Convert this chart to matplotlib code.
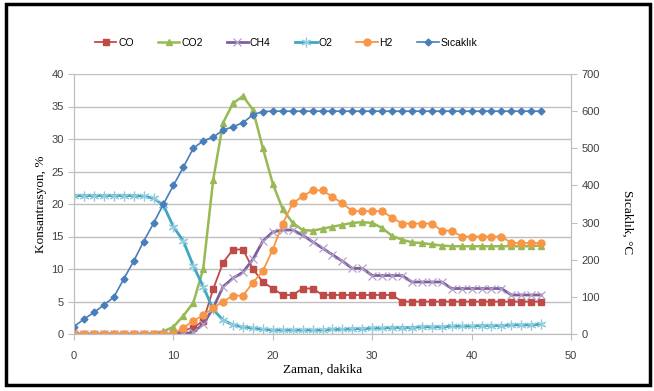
import matplotlib
matplotlib.use("Agg")
import matplotlib.pyplot as plt
from matplotlib.patches import Rectangle
import numpy as np

# time in minutes
zaman = list(range(48))

co = [0, 0, 0, 0, 0, 0, 0, 0, 0, 0, 0, 0.5, 1.0, 2.0, 6.9, 11.0, 13.0, 13.0, 10.0, 8.0,
      7.0, 6.0, 6.0, 7.0, 7.0, 6.0, 6.0, 6.0, 6.0, 6.0, 6.0, 6.0, 6.0, 5.0, 5.0, 5.0,
      5.0, 5.0, 5.0, 5.0, 5.0, 5.0, 5.0, 5.0, 5.0, 5.0, 5.0, 5.0]
co2 = [0, 0, 0, 0, 0, 0, 0, 0, 0, 0.4, 1.1, 2.8, 4.8, 10.0, 23.7, 32.5, 35.5, 36.6, 34.5, 28.6,
       23.1, 19.2, 17.1, 16.0, 15.9, 16.2, 16.5, 16.8, 17.1, 17.2, 17.1, 16.3, 15.1, 14.5, 14.1, 14.0,
       13.8, 13.6, 13.5, 13.5, 13.5, 13.5, 13.5, 13.5, 13.5, 13.5, 13.5, 13.6]
ch4 = [0, 0, 0, 0, 0, 0, 0, 0, 0, 0, 0, 0, 0.3, 1.5, 4.0, 7.3, 8.6, 9.5, 11.5, 14.3,
       15.7, 16.0, 16.0, 15.2, 14.2, 13.2, 12.2, 11.2, 10.1, 10.1, 9.0, 9.0, 9.0, 9.0, 8.0, 8.0,
       8.0, 8.0, 7.0, 7.0, 7.0, 7.0, 7.0, 7.0, 6.0, 6.0, 6.0, 6.0]
o2 = [21.3, 21.3, 21.3, 21.3, 21.3, 21.3, 21.3, 21.2, 20.9, 19.8, 16.5, 14.3, 10.5, 7.3, 3.8, 2.1,
      1.4, 1.1, 0.9, 0.7, 0.6, 0.6, 0.6, 0.6, 0.6, 0.6, 0.7, 0.7, 0.8, 0.8, 0.9, 0.9,
      1.0, 1.0, 1.0, 1.1, 1.1, 1.1, 1.2, 1.2, 1.2, 1.3, 1.3, 1.3, 1.4, 1.4, 1.4, 1.5]
h2 = [0, 0, 0, 0, 0, 0, 0, 0, 0, 0, 0, 1.0, 2.0, 2.9, 4.0, 5.0, 5.9, 5.9, 7.9, 9.7,
      13.0, 17.0, 20.1, 21.2, 22.1, 22.1, 21.1, 20.1, 18.9, 18.9, 18.9, 18.9, 17.9, 17.0, 17.0, 17.0,
      17.0, 15.9, 15.9, 15.0, 15.0, 15.0, 15.0, 15.0, 14.0, 14.0, 14.0, 14.0]
sicaklik = [20, 40, 58, 78, 99, 148, 196, 249, 298, 350, 400, 449, 500, 520, 530, 549, 558, 569, 590, 599] + [600] * 28

sans = ['Liberation Sans', 'DejaVu Sans']
serif = ['Liberation Serif', 'DejaVu Serif']
tick_col = '#404040'

fig = plt.figure(figsize=(6.54, 3.91), dpi=100)
ax = fig.add_axes([74/654, 1-334/391, (571-74)/654, (334-74)/391])
ax2 = ax.twinx()

lines = []
lines += ax.plot(zaman, co, color='#BE4B48', lw=1.3, marker='s', ms=4.5, label='CO')
lines += ax.plot(zaman, co2, color='#98B954', lw=1.8, marker='^', ms=4.2, label='CO2')
lines += ax.plot(zaman, ch4, color='#7D5FA0', lw=2.0, marker='x', ms=6, mew=0.9,
                 mec='#B3A2C7', label='CH4')
lines += ax.plot(zaman, o2, color='#40A6C2', lw=2.0, marker=(6, 2, 0), ms=7, mew=0.9,
                 mec='#93CDDD', label='O2')
lines += ax.plot(zaman, h2, color='#F79646', lw=1.3, marker='o', ms=5, label='H2')
lines += ax2.plot(zaman, sicaklik, color='#4A7EBB', lw=1.2, marker='D', ms=3.5, label='Sıcaklık')

ax.set_xlim(0, 50)
ax.set_ylim(0, 40)
ax.set_xticks(range(0, 51, 10))
ax.set_yticks(range(0, 41, 5))
ax2.set_ylim(0, 700)
ax2.set_yticks(range(0, 701, 100))

ax.grid(axis='y', color='#BFBFBF', lw=1.0)
ax.set_axisbelow(True)

for a in (ax, ax2):
    a.spines['top'].set_visible(False)
    for s in ('left', 'bottom', 'right'):
        a.spines[s].set_color('#BFBFBF')
    a.tick_params(colors='#BFBFBF', labelcolor=tick_col, labelsize=8, length=4, direction='out')
    for lab in a.get_xticklabels() + a.get_yticklabels():
        lab.set_family(sans)
ax.tick_params(axis='x', pad=8)

ax.set_xlabel('Zaman, dakika', family=serif, fontsize=9.5, labelpad=2)
ax.set_ylabel('Konsantrasyon, %', family=serif, fontsize=9.5, labelpad=3)
ax2.set_ylabel('Sıcaklık, °C', family=serif, fontsize=9.5, rotation=270)
ax2.yaxis.set_label_coords(1.125, 0.43)

fig.legend(handles=lines, loc='center', bbox_to_anchor=(0.437, 0.891), ncol=6, frameon=False,
           prop={'family': sans, 'size': 7.5}, handlelength=2.1, handletextpad=0.15,
           columnspacing=2.3)

fig.patches.append(Rectangle((6/654, 1-385/391), 644/654, 381/391, transform=fig.transFigure,
                             fill=False, edgecolor='black', lw=2.5))

fig.savefig('out.png', dpi=100)
